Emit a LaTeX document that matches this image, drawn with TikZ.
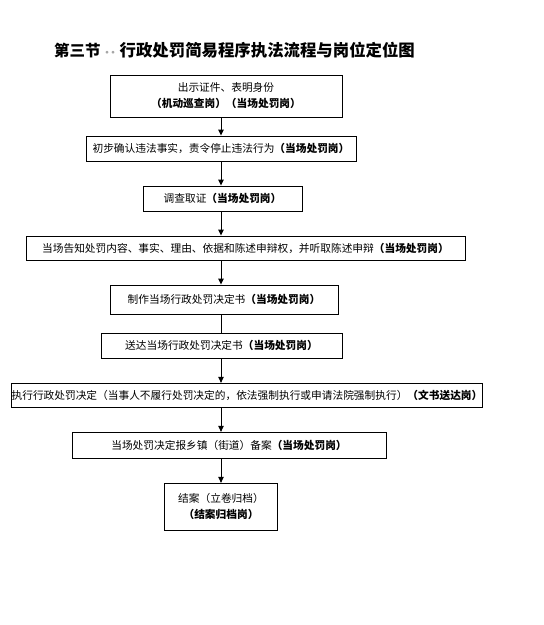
\documentclass[tikz,border=0pt]{standalone}
\usepackage{fontspec}
\newfontfamily\cjk{Noto Sans CJK SC}
\usetikzlibrary{arrows.meta}
\tikzset{
  flowbox/.style={draw, line width=0.9pt, inner sep=0pt, align=center,
    font=\cjk\fontsize{10.7}{16}\selectfont},
  flowarrow/.style={line width=0.9pt, -{Triangle[length=6pt,width=5.5pt]}},
  flowline/.style={line width=0.9pt},
}
\begin{document}
\begin{tikzpicture}[x=1pt,y=-1pt]
\useasboundingbox[fill=white] (0,0) rectangle (544,625);
\node[anchor=west, inner sep=0pt, font=\cjk\bfseries\fontsize{16.4}{20}\selectfont] (title) at (54,50)
  {{\fontsize{15.5}{20}\selectfont 第三节}\makebox[19pt][c]{\textcolor{gray!70}{\fontsize{10}{10}\selectfont ·\kern-4pt·}}行政处罚简易程序执法流程与岗位定位图};
\coordinate (spine) at (221,0);
\node[flowbox, minimum width=232pt, minimum height=42pt] (b1) at (226,96)
  {出示证件、表明身份\\\textbf{（机动巡查岗）（当场处罚岗）}};
\node[flowbox, minimum width=270pt, minimum height=25pt] (b2) at (221,148.5)
  {初步确认违法事实，责令停止违法行为\textbf{（当场处罚岗）}};
\node[flowbox, minimum width=159pt, minimum height=25pt] (b3) at (222.5,198.5)
  {调查取证\textbf{（当场处罚岗）}};
\node[flowbox, minimum width=439pt, minimum height=24pt] (b4) at (245.5,248)
  {当场告知处罚内容、事实、理由、依据和陈述申辩权，并听取陈述申辩\textbf{（当场处罚岗）}};
\node[flowbox, minimum width=228pt, minimum height=29pt] (b5) at (224,299.5)
  {制作当场行政处罚决定书\textbf{（当场处罚岗）}};
\node[flowbox, minimum width=241pt, minimum height=25pt] (b6) at (221.5,345.8)
  {送达当场行政处罚决定书\textbf{（当场处罚岗）}};
\node[flowbox, minimum width=468pt, minimum height=24pt] (b7) at (247,395.3)
  {执行行政处罚决定（当事人不履行处罚决定的，依法强制执行或申请法院强制执行）\textbf{（文书送达岗）}};
\node[flowbox, minimum width=314pt, minimum height=26pt] (b8) at (229,445.3)
  {当场处罚决定报乡镇（街道）备案\textbf{（当场处罚岗）}};
\node[flowbox, minimum width=113pt, minimum height=47pt] (b9) at (221,506.8)
  {结案（立卷归档）\\\textbf{（结案归档岗）}};
\draw[flowarrow] (b1.south -| spine) -- (b2.north -| spine);
\draw[flowarrow] (b2.south -| spine) -- (b3.north -| spine);
\draw[flowarrow] (b3.south -| spine) -- (b4.north -| spine);
\draw[flowarrow] (b4.south -| spine) -- (b5.north -| spine);
\draw[flowline]  (b5.south -| spine) -- (b6.north -| spine);
\draw[flowarrow] (b6.south -| spine) -- (b7.north -| spine);
\draw[flowarrow] (b7.south -| spine) -- (b8.north -| spine);
\draw[flowarrow] (b8.south -| spine) -- (b9.north -| spine);
\end{tikzpicture}
\end{document}
